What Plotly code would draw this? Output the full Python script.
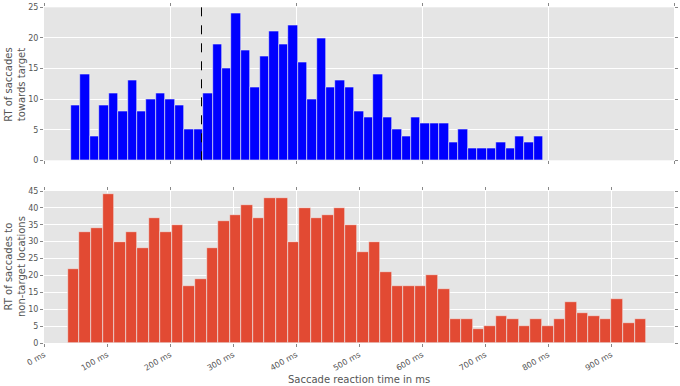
import plotly.graph_objects as go
from plotly.subplots import make_subplots

# ---- data ----
top_counts = [9, 14, 4, 9, 11, 8, 13, 8, 10, 11, 10, 9, 5, 5, 11, 19, 15, 24, 18, 12,
              17, 21, 19, 22, 16, 10, 20, 12, 13, 12, 8, 7, 14, 7, 5, 4, 7, 6, 6, 6,
              3, 5, 2, 2, 2, 3, 2, 4, 3, 4]
top_bin_start = 42.6
top_bin_width = 15.0

bottom_counts = [22, 33, 34, 44, 30, 33, 28, 37, 33, 35, 17, 19, 28, 36, 38, 41, 37, 43, 43, 30,
                 40, 37, 38, 40, 35, 27, 30, 21, 17, 17, 17, 20, 16, 7, 7, 4, 5, 8, 7, 5,
                 7, 5, 7, 12, 9, 8, 7, 13, 6, 7]
bottom_bin_start = 37.8
bottom_bin_width = 18.36

threshold_ms = 250

bottom_tick_vals = [0, 100, 200, 300, 400, 500, 600, 700, 800, 900]
bottom_tick_text = ["0 ms", "100 ms", "200 ms", "300 ms", "400 ms", "500 ms",
                    "600 ms", "700 ms", "800 ms", "900 ms"]
top_tick_vals = [0, 200, 400, 600, 800, 1000]

top_ylabel = "RT of saccades<br>towards target"
bottom_ylabel = "RT of saccades to<br>non-target locations"
xlabel = "Saccade reaction time in ms"


def centers(start, width, n):
    return [start + width * (i + 0.5) for i in range(n)]


W, H = 680, 386
ML, MR, MT, MB = 44, 6, 7, 43
PW, PH = W - ML - MR, H - MT - MB

fig = make_subplots(rows=2, cols=1, shared_xaxes=False, vertical_spacing=0.09)

fig.add_trace(go.Bar(
    x=centers(top_bin_start, top_bin_width, len(top_counts)),
    y=top_counts, width=top_bin_width,
    marker=dict(color="#0000FF", line=dict(color="#EEEEEE", width=0.6)),
    showlegend=False), row=1, col=1)

fig.add_trace(go.Bar(
    x=centers(bottom_bin_start, bottom_bin_width, len(bottom_counts)),
    y=bottom_counts, width=bottom_bin_width,
    marker=dict(color="#E24A33", line=dict(color="#EEEEEE", width=0.6)),
    showlegend=False), row=2, col=1)

fig.add_shape(type="line", x0=threshold_ms, x1=threshold_ms, y0=0, y1=1,
              xref="x", yref="y domain",
              line=dict(color="black", width=1, dash="dash"))

axis_common = dict(showgrid=True, gridcolor="white", gridwidth=1, zeroline=False,
                   showline=False, ticks="outside", ticklen=3, tickcolor="#888888",
                   mirror="ticks", automargin=False,
                   tickfont=dict(size=8, color="#555555"))

top_px = (7.3, 160.3)
bot_px = (191.0, 343.0)


def dom(px):
    return [(H - MB - px[1]) / PH, (H - MB - px[0]) / PH]


top_dom = dom(top_px)
bot_dom = dom(bot_px)

fig.update_xaxes(range=[0, 1000], tickvals=top_tick_vals, showticklabels=False,
                 domain=[0, 1], **axis_common, row=1, col=1)
fig.update_xaxes(range=[0, 1000], tickvals=bottom_tick_vals, ticktext=bottom_tick_text,
                 tickangle=-30, domain=[0, 1], **axis_common, row=2, col=1)
fig.update_yaxes(range=[0, 25], tickvals=[0, 5, 10, 15, 20, 25], domain=top_dom,
                 **axis_common, row=1, col=1)
fig.update_yaxes(range=[0, 45], tickvals=list(range(0, 50, 5)), domain=bot_dom,
                 **axis_common, row=2, col=1)

title_font = dict(family="DejaVu Sans", size=10, color="#555555")


def px_x(x):
    return (x - ML) / PW


def px_y(y):
    return (H - MB - y) / PH


fig.add_annotation(text=top_ylabel, xref="paper", yref="paper",
                   x=px_x(15), y=px_y((top_px[0] + top_px[1]) / 2),
                   xanchor="center", yanchor="middle", textangle=-90,
                   showarrow=False, font=title_font)
fig.add_annotation(text=bottom_ylabel, xref="paper", yref="paper",
                   x=px_x(15), y=px_y((bot_px[0] + bot_px[1]) / 2),
                   xanchor="center", yanchor="middle", textangle=-90,
                   showarrow=False, font=title_font)
fig.add_annotation(text=xlabel, xref="paper", yref="paper",
                   x=px_x(359), y=px_y(379),
                   xanchor="center", yanchor="middle",
                   showarrow=False, font=title_font)

fig.update_layout(
    width=W, height=H,
    margin=dict(l=ML, r=MR, t=MT, b=MB),
    plot_bgcolor="#E5E5E5", paper_bgcolor="white",
    bargap=0,
    font=dict(family="DejaVu Sans", color="#555555"),
)

fig.write_html("out.html",
               config={"displayModeBar": False},
               post_script="document.body.style.margin='0';document.body.style.overflow='hidden';")
